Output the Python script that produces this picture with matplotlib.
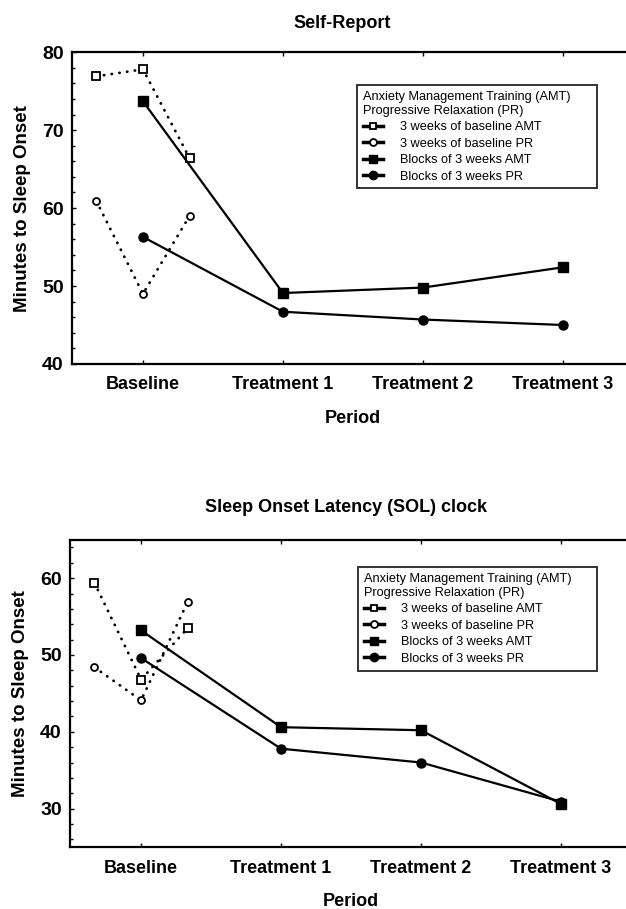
import matplotlib
matplotlib.use('Agg')
import matplotlib.pyplot as plt
from matplotlib.ticker import MultipleLocator
from matplotlib.lines import Line2D

plt.rcParams['font.family'] = ['Liberation Sans', 'DejaVu Sans']

periods = ['Baseline', 'Treatment 1', 'Treatment 2', 'Treatment 3']
weeks = [1, 2, 3]  # the three baseline weeks, drawn around the Baseline tick

# Self-Report
sr_base_amt = [76.9, 77.8, 66.4]
sr_base_pr = [60.9, 49.0, 59.0]
sr_block_amt = [73.7, 49.1, 49.8, 52.4]
sr_block_pr = [56.3, 46.7, 45.7, 45.0]

# Sleep Onset Latency (SOL) clock
sol_base_amt = [59.4, 46.8, 53.5]
sol_base_pr = [48.4, 44.1, 56.9]
sol_block_amt = [53.2, 40.6, 40.2, 30.6]
sol_block_pr = [49.6, 37.8, 36.0, 30.9]

legend_title = 'Anxiety Management Training (AMT)\nProgressive Relaxation (PR)'
labels = ['3 weeks of baseline AMT', '3 weeks of baseline PR',
          'Blocks of 3 weeks AMT', 'Blocks of 3 weeks PR']

dot = dict(color='black', lw=2.0, linestyle=(0, (0.1, 2.7)), dash_capstyle='round')
solid = dict(color='black', lw=1.6, linestyle='-')


def panel(ax, base_amt, base_pr, block_amt, block_pr, ylim, yticks, leg_box):
    wx = [(w - 2) / 3 for w in weeks]
    px = list(range(len(periods)))
    ax.plot(wx, base_amt, marker='s', ms=5.5, mfc='white', mec='black', mew=1.3, **dot)
    ax.plot(wx, base_pr, marker='o', ms=5, mfc='white', mec='black', mew=1.3, **dot)
    ax.plot(px, block_amt, marker='s', ms=7, mfc='black', mec='black', **solid)
    ax.plot(px, block_pr, marker='o', ms=6.5, mfc='black', mec='black', **solid)

    ax.set_xlim(-0.507, 3.5)
    ax.set_ylim(*ylim)
    ax.set_xticks(px)
    ax.set_xticklabels(periods, fontsize=13, fontweight='bold')
    ax.set_yticks(yticks)
    ax.set_yticklabels([str(v) for v in yticks], fontsize=14, fontweight='bold')
    ax.yaxis.set_minor_locator(MultipleLocator(2))
    ax.tick_params(axis='x', direction='in', top=True, length=3, width=1, pad=9)
    ax.tick_params(axis='y', which='both', direction='in', length=3, width=1, pad=6)
    ax.tick_params(axis='y', which='minor', length=2)
    for s in ax.spines.values():
        s.set_linewidth(1.6)
    ax.set_xlabel('Period', fontsize=13, fontweight='bold', labelpad=12)
    ax.set_ylabel('Minutes to Sleep Onset', fontsize=13.5, fontweight='bold', labelpad=8)

    hl = [Line2D([], [], marker='s', ms=5, mfc='white', mec='black', mew=1.3, color='black', lw=2.5),
          Line2D([], [], marker='o', ms=5, mfc='white', mec='black', mew=1.3, color='black', lw=2.5),
          Line2D([], [], marker='s', ms=6, color='black', lw=2.5),
          Line2D([], [], marker='o', ms=6, color='black', lw=2.5)]
    leg = ax.legend(hl, labels, title=legend_title, loc='upper left',
                    bbox_to_anchor=leg_box, mode='expand', fontsize=9.2, title_fontsize=9.2,
                    frameon=True, fancybox=False, edgecolor='black', handlelength=1.6,
                    handletextpad=1.3, labelspacing=0.35, borderpad=0.45, borderaxespad=0,
                    alignment='left')
    leg.get_frame().set_linewidth(1.4)
    return ax


fig = plt.figure(figsize=(6.26, 9.09), dpi=100)
ax1 = fig.add_axes([0.115, 0.5996, 0.896, 0.343])
ax2 = fig.add_axes([0.112, 0.0682, 0.896, 0.338])

panel(ax1, sr_base_amt, sr_base_pr, sr_block_amt, sr_block_pr, (40, 80), [40, 50, 60, 70, 80],
      (0.508, 0.5, 0.428, 0.394))
panel(ax2, sol_base_amt, sol_base_pr, sol_block_amt, sol_block_pr, (25, 65), [30, 40, 50, 60],
      (0.513, 0.5, 0.426, 0.41))

fig.text(342 / 626, 1 - 23 / 909, 'Self-Report', ha='center', va='center', fontsize=13, fontweight='bold')
fig.text(346 / 626, 1 - 508 / 909, 'Sleep Onset Latency (SOL) clock', ha='center', va='center',
         fontsize=13, fontweight='bold')

fig.savefig('out.png', dpi=100)
